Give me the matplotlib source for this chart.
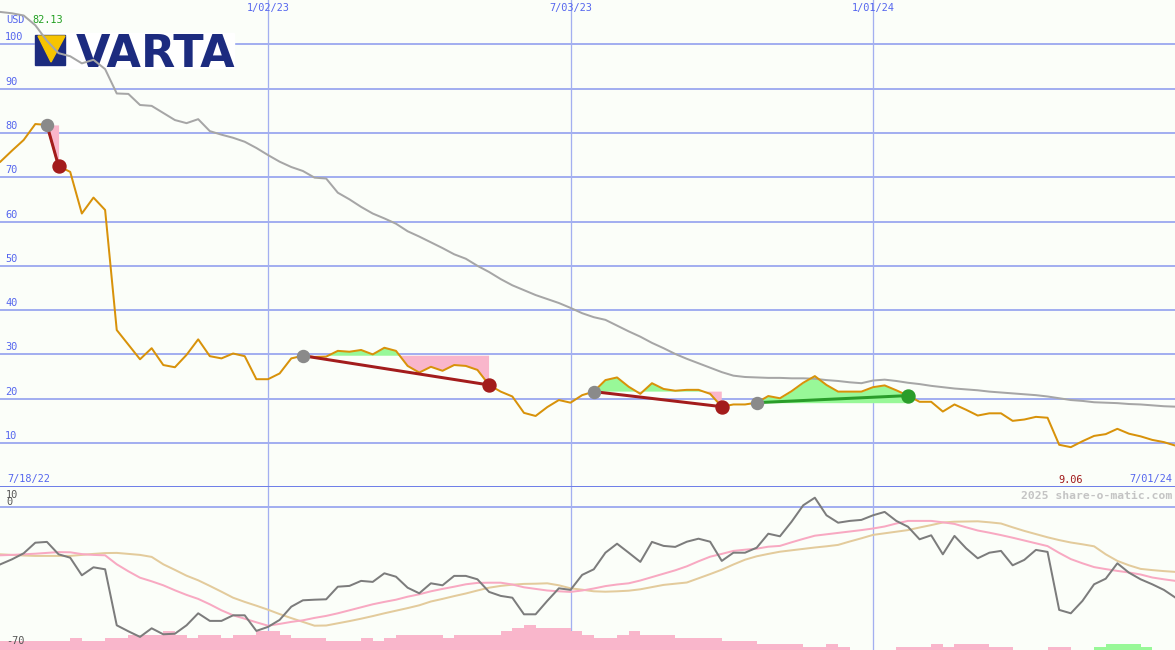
import matplotlib
matplotlib.use("Agg")
import matplotlib.pyplot as plt
import matplotlib.dates as mdates
from matplotlib.patches import Rectangle, Polygon
import numpy as np
import pandas as pd

# weekly closes, 7/25/22 .. 7/01/24 (USD)
dates = pd.date_range("2022-07-25", periods=102, freq="7D")
price = [73.5, 76.0, 78.4, 82.0, 81.8, 72.5, 71.2, 61.8, 65.4, 62.6,
         35.5, 32.2, 28.9, 31.4, 27.6, 27.1, 29.9, 33.4, 29.6, 29.1,
         30.2, 29.6, 24.4, 24.4, 25.7, 29.1, 29.7, 29.4, 29.5, 30.8,
         30.6, 31.0, 30.0, 31.5, 30.8, 27.4, 25.9, 27.2, 26.3, 27.6,
         27.4, 26.5, 23.1, 21.6, 20.5, 16.8, 16.1, 18.1, 19.7, 19.1,
         20.8, 21.6, 24.2, 24.8, 22.7, 21.1, 23.5, 22.2, 21.8, 22.0,
         22.0, 21.1, 18.2, 18.7, 18.7, 19.1, 20.6, 20.1, 21.7, 23.6,
         25.1, 23.1, 21.6, 21.6, 21.6, 22.6, 23.0, 21.9, 20.7, 19.3,
         19.3, 17.1, 18.7, 17.5, 16.2, 16.7, 16.7, 15.0, 15.3, 15.9,
         15.7, 9.6, 9.06, 10.4, 11.6, 12.0, 13.2, 12.1, 11.5, 10.7,
         10.2, 9.4]
# long moving average
ma_long = [107.3, 107.0, 106.5, 104.3, 100.8, 98.0, 97.3, 95.7, 96.5, 94.4,
           88.9, 88.8, 86.3, 86.1, 84.5, 82.9, 82.2, 83.1, 80.4, 79.6,
           78.9, 78.0, 76.6, 75.0, 73.5, 72.3, 71.4, 69.9, 69.7, 66.5,
           65.0, 63.3, 61.8, 60.7, 59.5, 57.8, 56.6, 55.3, 54.0, 52.6,
           51.6, 50.0, 48.6, 47.0, 45.6, 44.5, 43.4, 42.5, 41.6, 40.5,
           39.3, 38.4, 37.8, 36.5, 35.2, 34.0, 32.6, 31.4, 30.1, 29.0,
           28.0, 27.0, 26.0, 25.2, 24.9, 24.8, 24.7, 24.7, 24.6, 24.6,
           24.5, 24.2, 24.0, 23.7, 23.5, 24.1, 24.3, 24.0, 23.6, 23.3,
           22.9, 22.6, 22.3, 22.1, 21.9, 21.6, 21.4, 21.2, 21.0, 20.8,
           20.5, 20.1, 19.7, 19.5, 19.2, 19.1, 19.0, 18.8, 18.7, 18.5,
           18.3, 18.2]

# oscillator panel
osc = [-28.5, -26, -23, -17.7, -17.3, -23.5, -25.2, -34, -30, -31,
       -59, -62, -64.8, -60.5, -63.5, -63.2, -59, -53, -56.8, -56.8,
       -54, -54, -61.8, -59.8, -56.3, -49.7, -46.5, -46.2, -46, -39.7,
       -39.3, -36.8, -37.3, -33, -34.7, -40.2, -43, -38, -39, -34.3,
       -34.3, -36, -42.3, -44.3, -45.2, -53.5, -53.5, -46.8, -40.5, -41.3,
       -33.8, -31, -22.7, -18.2, -22.7, -27.3, -17.3, -19.3, -19.8, -17.2,
       -15.7, -17.2, -26.8, -22.7, -22.7, -20.2, -13.2, -14.5, -7.2, 1,
       4.8, -4, -7.7, -6.8, -6.3, -4, -2.3, -6.8, -9.7, -16,
       -14, -23.5, -14.3, -20.5, -25.5, -22.7, -21.8, -29, -26.3, -21.3,
       -22.3, -51.3, -53, -46.8, -38.5, -35.7, -28, -32.7, -36, -38.5,
       -41.3, -45.2]
osc_fast = [-24, -23.8, -23.5, -23.2, -22.8, -22.4, -22.5, -23.4, -23.8, -24,
            -28.5, -32, -35.2, -37, -39, -41.5, -43.8, -45.8, -48.5, -51.5,
            -54, -55.7, -57.5, -59.2, -58.3, -57.3, -56.5, -55.3, -54.3, -53,
            -51.5, -50, -48.5, -47.3, -46.2, -44.7, -43.5, -42, -40.8, -39.7,
            -38.5, -37.8, -37.7, -37.7, -38.6, -40, -40.8, -41.6, -42, -42.3,
            -41.6, -40.6, -39.4, -38.6, -38, -36.6, -34.9, -33.2, -31.5, -29.5,
            -27, -24.7, -23.3, -21.8, -21.2, -20.7, -19.7, -19.3, -17.5, -15.8,
            -14.2, -13.5, -12.8, -12.1, -11.4, -10.6, -9.6, -8.1, -6.8, -6.8,
            -6.8, -7.5, -8.3, -10, -11.6, -12.7, -13.9, -15.2, -16.6, -18,
            -19.4, -22.8, -25.9, -28, -29.9, -30.9, -31.8, -32.6, -33.6, -35.1,
            -36, -36.8]
osc_slow = [-23.5, -23.8, -24.1, -24.3, -24.3, -24.3, -24.3, -23.8, -23.3, -22.9,
            -22.8, -23.3, -23.8, -24.8, -28.5, -31.3, -34.2, -36.5, -39.3, -42.2,
            -45.2, -47.3, -49.2, -51.2, -53.4, -55.4, -57.3, -59.2, -59.1, -58,
            -56.9, -55.7, -54.4, -53, -51.7, -50.4, -49, -47.1, -45.8, -44.4,
            -43.1, -41.6, -40.2, -39.3, -38.7, -38.3, -38.2, -38, -39, -40.5,
            -41.2, -42, -42.2, -42, -41.7, -41, -39.9, -38.8, -38.2, -37.6,
            -35.5, -33.4, -31.2, -28.6, -26.2, -24.5, -23.3, -22.2, -21.5, -20.8,
            -20.1, -19.5, -18.8, -17.1, -15.5, -13.8, -13, -12.2, -11.4, -10.1,
            -8.9, -7.6, -7.2, -7.1, -7, -7.5, -8.1, -10, -11.8, -13.4,
            -15, -16.4, -17.6, -18.5, -19.5, -23.5, -26.8, -29, -30.8, -31.4,
            -31.9, -32.3]
# histogram at the foot of the lower panel (negative = pink, positive = green)
hist = [-4.5, -4.5, -4.5, -4.5, -4.5, -4.5, -6, -4.5, -4.5, -6,
        -6, -7.5, -7.5, -7.5, -9.5, -7.5, -6, -7.5, -7.5, -6,
        -7.5, -7.5, -9.5, -9.5, -7.5, -6, -6, -6, -4.5, -4.5,
        -4.5, -6, -4.5, -6, -7.5, -7.5, -7.5, -7.5, -6, -7.5,
        -7.5, -7.5, -7.5, -9.5, -11, -12.5, -11, -11, -11, -9.5,
        -7.5, -6, -6, -7.5, -9.5, -7.5, -7.5, -7.5, -6, -6,
        -6, -6, -4.5, -4.5, -4.5, -3, -3, -3, -3, -1.5,
        -1.5, -3, -1.5, 0, 0, 0, 0, -1.5, -1.5, -1.5,
        -3, -1.5, -3, -3, -3, -1.5, -1.5, 0, 0, 0,
        -1.5, -1.5, 0, 0, 1.5, 3, 3, 3, 1.5, 0,
        0, 0]

# trades: index of entry and exit week
entries = [4, 26, 51, 65]
exits = [5, 42, 62, 78]

grid_dates = ["2023-01-02", "2023-07-03", "2024-01-01"]
grid_labels = ["1/02/23", "7/03/23", "1/01/24"]

W, H = 1175, 650
bg = "#fbfef9"
blue_txt = "#5566ee"
grid_c = "#a3aff0"
PX = 0.72  # points per pixel at dpi 100

x = mdates.date2num(dates)
price = np.array(price)
week = 7.0
x0 = mdates.date2num(pd.Timestamp("2022-07-18")) + 0.966 * week
x1 = x0 + W / 11.635 * week

fig = plt.figure(figsize=(W / 100, H / 100), dpi=100, facecolor=bg)
split = (H - 487.3) / H
ax = fig.add_axes([0, split, 1, 1 - split])
ax2 = fig.add_axes([0, 0, 1, split])
for a in (ax, ax2):
    a.set_facecolor(bg)
    a.set_xlim(x0, x1)
    for s in a.spines.values():
        s.set_visible(False)
    a.set_xticks([])
    a.set_yticks([])
    for d in grid_dates:
        a.axvline(mdates.date2num(pd.Timestamp(d)), color=grid_c, lw=1.3 * PX, zorder=1)
ax.set_ylim(0, 110)
ax2.set_ylim(-71.35, 10)

mono = "DejaVu Sans Mono"
ytr = ax.get_yaxis_transform()
for v in range(10, 101, 10):
    ax.axhline(v, color=grid_c, lw=2 * PX, zorder=1)
    ax.annotate(str(v), xy=(0, v), xycoords=ytr, xytext=(5, 2), textcoords="offset pixels",
                fontsize=7.4, family=mono, color=blue_txt, va="bottom", ha="left")
ax.axhline(0, color="#6f7fe8", lw=3 * PX, zorder=2, clip_on=False)
ax2.axhline(0, color=grid_c, lw=2 * PX, zorder=1)

for d, lab in zip(grid_dates, grid_labels):
    ax.text(mdates.date2num(pd.Timestamp(d)), 1 - 8 / 487.3, lab, transform=ax.get_xaxis_transform(),
            ha="center", va="center", fontsize=7.4, family=mono, color=blue_txt)

# logo
ftr = fig.transFigure
def fp(px, py):
    return (px / W, 1 - py / H)
ax.add_patch(Rectangle(fp(35, 68), 199 / W, 35 / H, transform=ftr, color="white", zorder=2))
ax.add_patch(Polygon([fp(35, 35), fp(65, 35), fp(65, 65), fp(35, 65)], transform=ftr,
                     color="#1c2b7f", zorder=2.1))
ax.add_patch(Polygon([fp(38, 36), fp(65, 36), fp(51, 62)], transform=ftr,
                     color="#f6c400", zorder=2.2))
ax.text(*fp(76, 67), "VARTA", transform=ftr, family="DejaVu Sans", weight="bold",
        fontsize=32, color="#1c2b7f", va="baseline", ha="left", zorder=2.3)

ax.text(*fp(6, 20), "USD", transform=ftr, fontsize=7.4, family=mono, color=blue_txt, va="center")
ax.text(*fp(32, 20), "82.13", transform=ftr, fontsize=7.4, family=mono, color="#22a022", va="center")

# price + moving average
ax.plot(x, ma_long, color="#a6a6a6", lw=2 * PX, zorder=4)

for e, q in zip(entries, exits):
    xs = x[e:q + 1]
    ps = price[e:q + 1]
    lvl = price[e]
    ax.fill_between(xs, ps, lvl, where=ps >= lvl, interpolate=True, color="#98f898", lw=0, zorder=3)
    ax.fill_between(xs, ps, lvl, where=ps <= lvl, interpolate=True, color="#f9b6cb", lw=0, zorder=3)

ax.plot(x, price, color="#d8920a", lw=2 * PX, zorder=5)

for e, q in zip(entries, exits):
    win = price[q] > price[e]
    c = "#2a9d2a" if win else "#a31c1c"
    ax.plot([x[e], x[q]], [price[e], price[q]], color=c, lw=3 * PX, zorder=6)
    ax.plot(x[e], price[e], "o", ms=12 * PX, color="#8a8a8a", zorder=7)
    ax.plot(x[q], price[q], "o", ms=13 * PX, color=c, zorder=7)

ax.text(*fp(7, 479), "7/18/22", transform=ftr, fontsize=7.4, family=mono, color=blue_txt, va="center")
ax.text(*fp(1172, 479), "7/01/24", transform=ftr, fontsize=7.4, family=mono, color=blue_txt,
        va="center", ha="right")
low_i = int(np.argmin(price))
ax.text(x[low_i], 8 / 4.43 - 0.2, "%.2f" % price[low_i], fontsize=7.4, family=mono,
        color="#a01818", va="center", ha="center")

# lower panel
hist = np.array(hist)
ax2.bar(x, np.abs(hist), width=week, align="edge", bottom=-71.35,
        color=np.where(hist > 0, "#98f898", "#f9b6cb"), lw=0, zorder=2)
ax2.plot(x, osc_slow, color="#e3cb9c", lw=2 * PX, zorder=3)
ax2.plot(x, osc_fast, color="#f8a9c2", lw=2 * PX, zorder=3)
ax2.plot(x, osc, color="#7c7c7c", lw=2 * PX, zorder=4)

ax2.text(*fp(6, 495), "10", transform=ftr, fontsize=7.4, family=mono, color="#555555", va="center")
ax2.text(*fp(6, 502), "0", transform=ftr, fontsize=7.4, family=mono, color="#555555", va="center")
ax2.text(*fp(6, 641), "-70", transform=ftr, fontsize=7.4, family=mono, color="#555555", va="center")
ax2.text(*fp(1172, 496), "2025 share-o-matic.com", transform=ftr, fontsize=8.2, family=mono,
         weight="bold", color="#c4c4c4", va="center", ha="right")

fig.savefig("out.png", dpi=100, facecolor=bg)
